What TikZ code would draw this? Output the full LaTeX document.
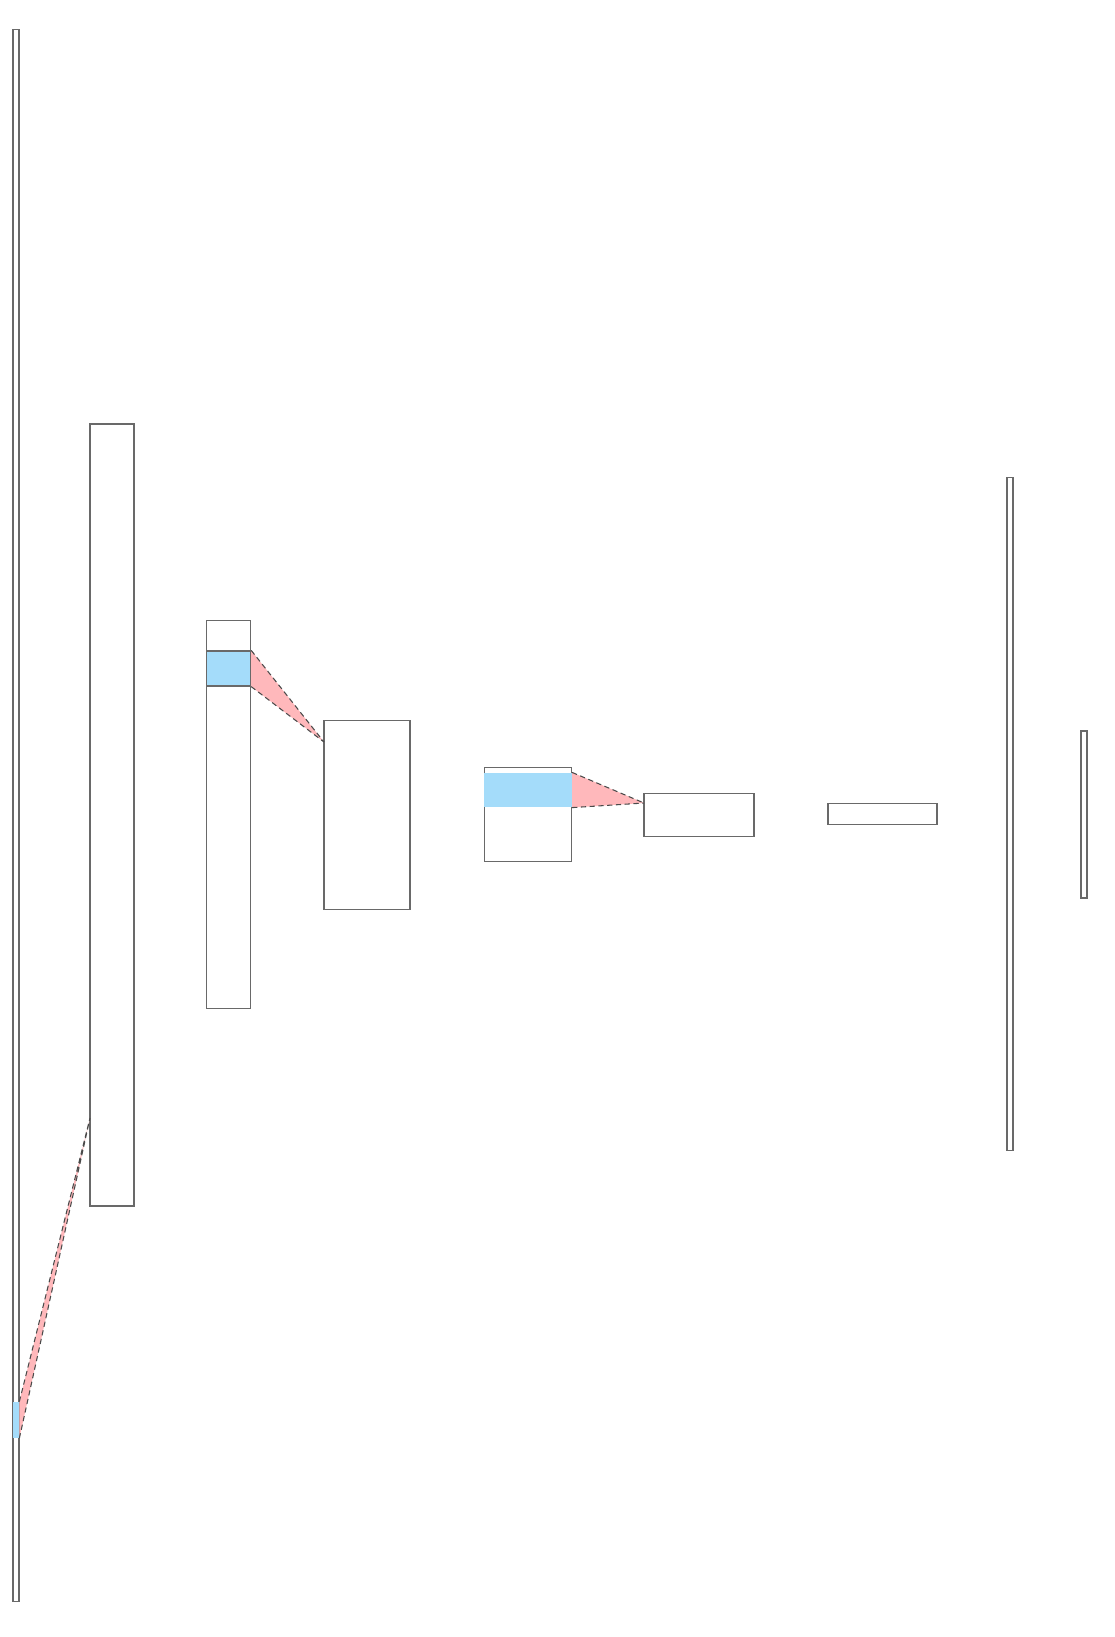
\documentclass[tikz,border=0pt]{standalone}
\usepackage{tikz}
\usetikzlibrary{positioning,calc}
\usepackage{xcolor}
\definecolor{patchblue}{RGB}{164,220,250}
\definecolor{conepink}{RGB}{255,184,187}
\definecolor{edgegray}{RGB}{105,105,105}

\begin{document}
\begin{tikzpicture}[
  x=0.02cm, y=-0.02cm,
  layer/.style={draw=edgegray, rectangle, line width=0.7pt, inner sep=0pt},
  patch/.style={fill=patchblue, rectangle, inner sep=0pt},
  cone/.style={fill=conepink},
  coneedge/.style={draw=edgegray!70!black, densely dashed, line width=0.6pt},
]
  \useasboundingbox (0,0) rectangle (1115,1637);

  % layers
  \node[layer, minimum width=0.12cm, minimum height=31.46cm] (in)   at (16,815.5)  {};
  \node[layer, minimum width=0.88cm, minimum height=15.64cm] (conv1) at (112,815)  {};
  \node[layer, minimum width=0.88cm, minimum height=7.76cm]  (pool1) at (228.6,814.5) {};
  \node[layer, minimum width=1.72cm, minimum height=3.78cm]  (conv2) at (367,815)  {};
  \node[layer, minimum width=1.75cm, minimum height=1.88cm]  (pool2) at (528,814.5) {};
  \node[layer, minimum width=2.20cm, minimum height=0.85cm]  (conv3) at (699,815)  {};
  \node[layer, minimum width=2.18cm, minimum height=0.43cm]  (pool3) at (882.5,814) {};
  \node[layer, minimum width=0.12cm, minimum height=13.45cm] (dense) at (1010,814) {};
  \node[layer, minimum width=0.12cm, minimum height=3.34cm]  (out)   at (1084,814.5) {};

  % receptive fields
  \node[patch, minimum width=0.12cm, minimum height=0.72cm] (p1) at (16,1420) {};
  \node[patch, draw=edgegray, line width=0.7pt, minimum width=0.88cm, minimum height=0.70cm] (p3) at (228.6,668.5) {};
  \node[patch, minimum width=1.75cm, minimum height=0.69cm] (p5) at (528,790) {};

  \coordinate (a2) at (90,1118);
  \coordinate (a4) at (324,742);
  \coordinate (a6) at (644,803);

  \fill[cone] (p1.north east) -- (p1.south east) -- (a2) -- cycle;
  \fill[cone] (p3.north east) -- (p3.south east) -- (a4) -- cycle;
  \fill[cone] (p5.north east) -- (p5.south east) -- (a6) -- cycle;

  \draw[coneedge] (p1.north east) -- (a2) (p1.south east) -- (a2);
  \draw[coneedge] (p3.north east) -- (a4) (p3.south east) -- (a4);
  \draw[coneedge] (p5.north east) -- (a6) (p5.south east) -- (a6);
\end{tikzpicture}
\end{document}
